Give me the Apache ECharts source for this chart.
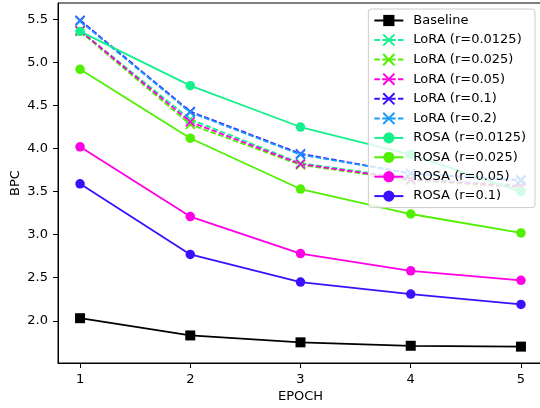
<!DOCTYPE html>
<html>
<head>
<meta charset="utf-8">
<script src="https://cdn.jsdelivr.net/npm/echarts@6/dist/echarts.min.js"></script>
<style>html,body{margin:0;padding:0;background:#fff;overflow:hidden;}#c{width:540px;height:408px;}</style>
</head>
<body>
<div id="c"></div>
<script>
const epochs = [1, 2, 3, 4, 5];
const xTicks = [1, 2, 3, 4, 5];
const yTicks = [2.0, 2.5, 3.0, 3.5, 4.0, 4.5, 5.0, 5.5];

const baseline   = [2.03, 1.83, 1.75, 1.71, 1.70];
const lora0125   = [5.37, 4.34, 3.83, 3.65, 3.57];
const lora025    = [5.36, 4.28, 3.81, 3.63, 3.55];
const lora05     = [5.37, 4.31, 3.82, 3.64, 3.56];
const lora1      = [5.49, 4.43, 3.94, 3.71, 3.63];
const lora2      = [5.48, 4.42, 3.93, 3.71, 3.64];
const rosa0125   = [5.36, 4.73, 4.25, 3.93, 3.50];
const rosa025    = [4.92, 4.12, 3.53, 3.24, 3.02];
const rosa05     = [4.02, 3.21, 2.78, 2.58, 2.47];
const rosa1      = [3.59, 2.77, 2.45, 2.31, 2.19];

const names = ['Baseline','LoRA (r=0.0125)','LoRA (r=0.025)','LoRA (r=0.05)','LoRA (r=0.1)','LoRA (r=0.2)',
  'ROSA (r=0.0125)','ROSA (r=0.025)','ROSA (r=0.05)','ROSA (r=0.1)'];

const C0125 = '#14f08c', C025 = '#50f000', C05 = '#ff00e6', C1 = '#3c10ff', C2 = '#1a9cff';
const xPath = 'path://M0,0L10,10M10,0L0,10';

function pts(arr){ return epochs.map((e,i)=>[e, arr[i]]); }

function mk(name, data, color, kind){
  const s = {
    name, type:'line', data: pts(data), animation:false,
    lineStyle:{color, width:1.8, type: kind==='lora' ? [5.5,2.4] : 'solid'},
    itemStyle:{color},
    showSymbol:true, symbolKeepAspect:true
  };
  if (kind==='base'){ s.symbol='rect'; s.symbolSize=10; }
  else if (kind==='rosa'){ s.symbol='circle'; s.symbolSize=9.5; }
  else { s.symbol=xPath; s.symbolSize=9; s.itemStyle={color, borderColor:color, borderWidth:1.6}; }
  return s;
}

const series = [
  mk(names[0], baseline, '#000000', 'base'),
  mk(names[1], lora0125, C0125, 'lora'),
  mk(names[2], lora025, C025, 'lora'),
  mk(names[3], lora05, C05, 'lora'),
  mk(names[4], lora1, C1, 'lora'),
  mk(names[5], lora2, C2, 'lora'),
  mk(names[6], rosa0125, C0125, 'rosa'),
  mk(names[7], rosa025, C025, 'rosa'),
  mk(names[8], rosa05, C05, 'rosa'),
  mk(names[9], rosa1, C1, 'rosa'),
];

const font = 'DejaVu Sans';
const chart = echarts.init(document.getElementById('c'), null, {renderer:'canvas'});
chart.setOption({
  animation:false,
  backgroundColor:'#ffffff',
  grid:{left:58, right:-3, top:3, bottom:45, containLabel:false, outerBoundsMode:'none',
    show:true, borderColor:'#000', borderWidth:1, backgroundColor:'transparent'},
  legend:{
    data:names, orient:'vertical', right:5, top:9,
    itemWidth:29, itemHeight:14, itemGap:6.4,
    padding:[5,9,5,5],
    backgroundColor:'rgba(255,255,255,0.8)', borderColor:'#cccccc', borderWidth:1, borderRadius:3,
    textStyle:{fontFamily:font, fontSize:13, color:'#000', padding:[0,0,0,5]}
  },
  xAxis:{
    type:'value', min:0.8, max:5.2,
    name:'EPOCH', nameLocation:'middle', nameGap:27, nameMoveOverlap:false,
    nameTextStyle:{fontFamily:font, fontSize:13, color:'#000'},
    axisLine:{show:true, lineStyle:{color:'#000', width:1}},
    axisTick:{show:true, length:5, lineStyle:{color:'#000'}, customValues:xTicks},
    axisLabel:{fontFamily:font, fontSize:13, color:'#000', margin:10, customValues:xTicks},
    splitLine:{show:false}
  },
  yAxis:{
    type:'value', min:1.51, max:5.69,
    name:'BPC', nameLocation:'middle', nameGap:36, nameRotate:90, nameMoveOverlap:false,
    nameTextStyle:{fontFamily:font, fontSize:13, color:'#000'},
    axisLine:{show:true, lineStyle:{color:'#000', width:1}},
    axisTick:{show:true, length:5, lineStyle:{color:'#000'}, customValues:yTicks},
    axisLabel:{fontFamily:font, fontSize:13, color:'#000', margin:10, customValues:yTicks,
      formatter:v=>Number(v).toFixed(1)},
    splitLine:{show:false}
  },
  series
});
</script>
</body>
</html>
